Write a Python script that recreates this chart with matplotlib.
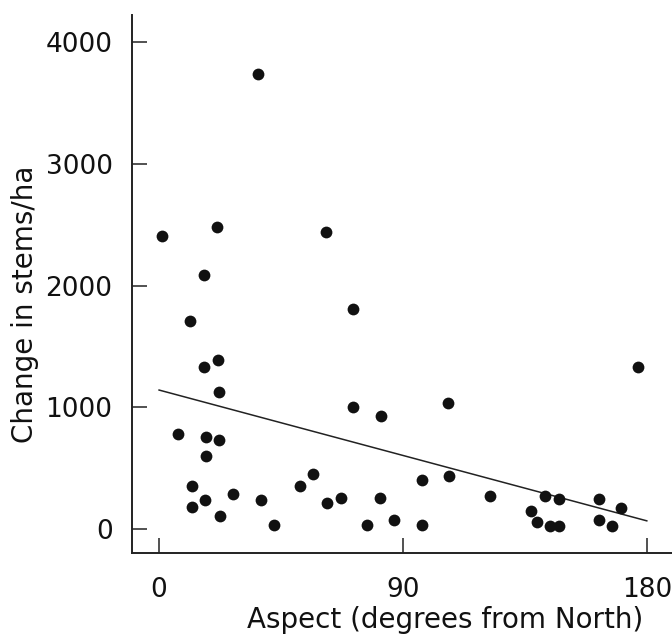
import matplotlib.pyplot as plt
import numpy as np

# aspect (degrees from north) and change in stem density per plot
aspect = [1, 21.5, 36.5, 61.5, 16.5, 11.5, 71.5, 16.7, 21.7, 22,
          71.7, 81.8, 106.6, 176.6, 7, 17.2, 22.1, 17.3, 12.1, 12.2,
          17.1, 27.2, 22.3, 37.5, 42.3, 52.1, 56.9, 61.9, 67.1, 76.8,
          81.7, 86.7, 97, 96.9, 107, 122.1, 137.3, 139.6, 142.6, 147.5,
          144.3, 147.7, 162.3, 162.3, 167.3, 170.4]
stems_change = [2410, 2480, 3740, 2440, 2085, 1710, 1810, 1335, 1385, 1130,
                1005, 930, 1033, 1330, 780, 755, 730, 600, 355, 185,
                235, 285, 105, 235, 35, 355, 450, 210, 257, 35,
                257, 77, 403, 35, 433, 274, 151, 55, 274, 249,
                25, 25, 249, 77, 25, 175]

# fitted line: change = intercept + slope * aspect
fit_intercept = 1142
fit_slope = -5.97
fit_range = [0, 180]

x_ticks = [0, 90, 180]
y_ticks = [0, 1000, 2000, 3000, 4000]


def main():
    fig = plt.figure(figsize=(6.72, 6.35), dpi=100)
    ax = fig.add_axes([0.1964, 0.1291, 0.8036, 0.8472])

    ax.scatter(aspect, stems_change, s=72, color='#111111', zorder=3, linewidths=0)

    fx = np.array(fit_range, dtype=float)
    ax.plot(fx, fit_intercept + fit_slope * fx, color='#222222', lw=1.1)

    ax.set_xlim(-10, 189.3)
    ax.set_ylim(-197, 4223)
    ax.set_xticks(x_ticks)
    ax.set_yticks(y_ticks)

    for side in ['top', 'right']:
        ax.spines[side].set_visible(False)
    for side in ['left', 'bottom']:
        ax.spines[side].set_linewidth(1.4)
        ax.spines[side].set_color('#222222')

    ax.tick_params(axis='both', direction='in', length=11, width=1.1,
                   color='#222222', labelsize=19, labelcolor='#111111')
    ax.tick_params(axis='y', pad=14)
    ax.tick_params(axis='x', pad=17)

    ax.set_xlabel('Aspect (degrees from North)', fontsize=20, color='#111111')
    ax.set_ylabel('Change in stems/ha', fontsize=20, color='#111111')
    ax.xaxis.set_label_coords(0.5806, -0.099)
    ax.yaxis.set_label_coords(-0.173, 0.462)

    fig.savefig('out.png', dpi=100)


if __name__ == '__main__':
    main()
